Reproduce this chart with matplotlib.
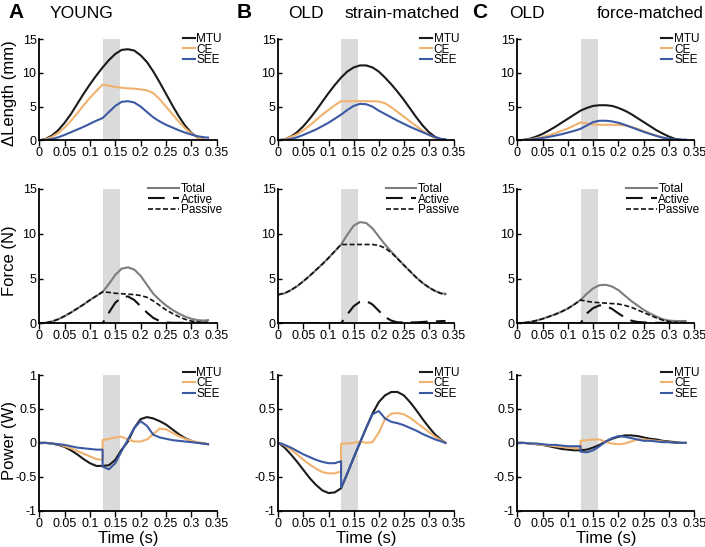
import matplotlib
matplotlib.use("Agg")
import matplotlib.pyplot as plt

# common time base (s); 0.125 appears twice so the power traces can jump there
t = [0, 0.0125, 0.025, 0.0375, 0.05, 0.0625, 0.075, 0.0875, 0.1, 0.1125, 0.125,
     0.125, 0.1375, 0.15, 0.1625, 0.175, 0.1875, 0.2, 0.2125, 0.225, 0.2375,
     0.25, 0.2625, 0.275, 0.2875, 0.3, 0.3125, 0.325, 0.333]

stim = (0.125, 0.159)

# ---- length change (mm)
len_mtu_A = [0, 0.2, 0.7, 1.5, 2.6, 3.9, 5.4, 6.9, 8.3, 9.6, 10.8, 10.8, 11.9, 12.8, 13.4, 13.5,
             13.3, 12.6, 11.6, 10.2, 8.6, 6.9, 5.2, 3.6, 2.2, 1.1, 0.4, 0.05, 0]
len_ce_A = [0, 0.15, 0.5, 1.1, 1.9, 2.9, 4.0, 5.2, 6.3, 7.3, 8.25, 8.25, 8.1, 7.9, 7.8, 7.7,
            7.65, 7.55, 7.4, 7.0, 6.1, 5.0, 3.9, 2.8, 1.8, 1.0, 0.4, 0.1, 0]
len_see_A = [0, 0.05, 0.2, 0.45, 0.8, 1.2, 1.6, 2.0, 2.45, 2.9, 3.3, 3.3, 4.2, 5.1, 5.7, 5.8,
             5.6, 5.0, 4.2, 3.4, 2.8, 2.3, 1.9, 1.5, 1.15, 0.85, 0.6, 0.45, 0.4]

len_mtu_B = [0, 0.15, 0.55, 1.2, 2.1, 3.2, 4.4, 5.7, 7.0, 8.2, 9.3, 9.3, 10.2, 10.8, 11.1, 11.1,
             10.8, 10.2, 9.3, 8.3, 7.2, 6.0, 4.7, 3.4, 2.2, 1.2, 0.5, 0.1, 0]
len_ce_B = [0, 0.15, 0.5, 0.9, 1.5, 2.2, 3.0, 3.8, 4.5, 5.2, 5.8, 5.8, 5.8, 5.8, 5.8, 5.8,
            5.8, 5.75, 5.5, 4.9, 4.2, 3.5, 2.8, 2.1, 1.4, 0.8, 0.3, 0.05, 0]
len_see_B = [0, 0.05, 0.2, 0.45, 0.8, 1.2, 1.6, 2.1, 2.6, 3.2, 3.8, 3.8, 4.5, 5.1, 5.4, 5.35,
             5.0, 4.4, 3.9, 3.4, 2.9, 2.45, 2.0, 1.6, 1.2, 0.8, 0.45, 0.2, 0.15]

len_mtu_C = [0, 0.07, 0.25, 0.55, 0.95, 1.45, 2.0, 2.6, 3.2, 3.8, 4.4, 4.4, 4.8, 5.1, 5.2, 5.2,
             5.1, 4.8, 4.4, 3.9, 3.3, 2.7, 2.1, 1.5, 1.0, 0.55, 0.2, 0.05, 0]
len_ce_C = [0, 0.05, 0.15, 0.3, 0.5, 0.75, 1.05, 1.4, 1.75, 2.2, 2.65, 2.65, 2.5, 2.35, 2.3, 2.3,
            2.3, 2.3, 2.2, 2.0, 1.7, 1.35, 1.0, 0.7, 0.4, 0.2, 0.05, -0.1, -0.15]
len_see_C = [0, 0.03, 0.1, 0.2, 0.35, 0.5, 0.7, 0.9, 1.15, 1.4, 1.7, 1.7, 2.2, 2.7, 2.9, 2.9,
             2.8, 2.6, 2.3, 1.95, 1.6, 1.25, 0.95, 0.65, 0.4, 0.25, 0.15, 0.1, 0.1]

# ---- force (N)
f_pas_A = [0, 0.05, 0.2, 0.45, 0.8, 1.2, 1.65, 2.1, 2.6, 3.05, 3.5, 3.5, 3.45, 3.35, 3.3, 3.25,
           3.2, 3.1, 2.9, 2.5, 2.0, 1.5, 1.1, 0.75, 0.45, 0.25, 0.15, 0.1, 0.1]
f_tot_A = [0, 0.05, 0.2, 0.45, 0.8, 1.2, 1.65, 2.1, 2.6, 3.05, 3.5, 3.5, 4.4, 5.4, 6.1, 6.25,
           6.0, 5.3, 4.3, 3.3, 2.6, 2.0, 1.5, 1.1, 0.75, 0.5, 0.35, 0.3, 0.35]
f_act_A = [0, 0, 0, 0, 0, 0, 0, 0, 0, 0, 0, 0, 1.2, 2.3, 2.9, 3.0,
           2.6, 1.9, 1.2, 0.6, 0.25, 0.1, 0.05, 0.05, 0.05, 0.05, 0.05, 0.05, 0.05]

f_pas_B = [3.2, 3.35, 3.7, 4.15, 4.7, 5.3, 5.95, 6.6, 7.3, 8.05, 8.8, 8.8, 8.8, 8.8, 8.8, 8.8,
           8.8, 8.7, 8.4, 7.9, 7.2, 6.5, 5.8, 5.1, 4.5, 4.0, 3.6, 3.3, 3.2]
f_tot_B = [3.2, 3.35, 3.7, 4.15, 4.7, 5.3, 5.95, 6.6, 7.3, 8.05, 8.8, 8.8, 9.9, 10.9, 11.3, 11.2,
           10.6, 9.7, 8.8, 8.0, 7.25, 6.5, 5.8, 5.1, 4.5, 4.0, 3.6, 3.35, 3.3]
f_act_B = [0, 0, 0, 0, 0, 0, 0, 0, 0, 0, 0, 0, 1.0, 1.9, 2.4, 2.5,
           2.1, 1.4, 0.7, 0.3, 0.1, 0.1, 0.1, 0.1, 0.15, 0.2, 0.2, 0.25, 0.25]

f_pas_C = [0, 0.05, 0.15, 0.3, 0.5, 0.75, 1.0, 1.3, 1.65, 2.1, 2.6, 2.6, 2.45, 2.35, 2.3, 2.25,
           2.2, 2.15, 2.0, 1.8, 1.5, 1.2, 0.9, 0.6, 0.35, 0.2, 0.1, 0.05, 0.05]
f_tot_C = [0, 0.05, 0.15, 0.3, 0.5, 0.75, 1.0, 1.3, 1.65, 2.1, 2.6, 2.6, 3.3, 3.9, 4.25, 4.3,
           4.1, 3.7, 3.1, 2.5, 2.0, 1.5, 1.1, 0.75, 0.45, 0.3, 0.25, 0.25, 0.25]
f_act_C = [0, 0, 0, 0, 0, 0, 0, 0, 0, 0, 0, 0, 1.1, 1.7, 2.0, 1.95,
           1.6, 1.1, 0.65, 0.3, 0.15, 0.1, 0.05, 0.05, 0.05, 0.05, 0.05, 0.05, 0.05]

# ---- power (W)
p_mtu_A = [0, 0, -0.01, -0.03, -0.06, -0.11, -0.17, -0.24, -0.3, -0.34, -0.34, -0.34, -0.33, -0.25,
           -0.1, 0.02, 0.22, 0.35, 0.38, 0.36, 0.32, 0.27, 0.2, 0.13, 0.07, 0.03, 0.0, -0.01, -0.02]
p_ce_A = [0, 0, -0.01, -0.02, -0.05, -0.08, -0.12, -0.16, -0.2, -0.24, -0.25, 0.04, 0.06, 0.08,
          0.09, 0.05, 0.02, 0.02, 0.05, 0.13, 0.21, 0.2, 0.15, 0.1, 0.06, 0.03, 0.01, 0.0, -0.02]
p_see_A = [0, 0, -0.01, -0.02, -0.03, -0.05, -0.07, -0.08, -0.09, -0.1, -0.1, -0.35, -0.39, -0.3,
           -0.12, 0.05, 0.22, 0.32, 0.25, 0.12, 0.08, 0.06, 0.04, 0.03, 0.02, 0.01, 0.0, -0.01, -0.02]

p_mtu_B = [0, -0.07, -0.17, -0.28, -0.4, -0.52, -0.62, -0.7, -0.74, -0.73, -0.67, -0.67, -0.45,
           -0.22, 0.0, 0.22, 0.43, 0.6, 0.7, 0.75, 0.75, 0.7, 0.6, 0.48, 0.35, 0.23, 0.12, 0.04, 0]
p_ce_B = [0, -0.04, -0.1, -0.17, -0.25, -0.32, -0.38, -0.43, -0.45, -0.45, -0.42, -0.01, -0.01,
          0.0, 0.02, 0.0, 0.01, 0.15, 0.35, 0.43, 0.44, 0.42, 0.37, 0.3, 0.23, 0.16, 0.09, 0.03, 0]
p_see_B = [0, -0.03, -0.07, -0.12, -0.17, -0.21, -0.25, -0.28, -0.3, -0.3, -0.27, -0.66, -0.45,
           -0.22, 0.0, 0.22, 0.42, 0.47, 0.36, 0.31, 0.29, 0.26, 0.22, 0.18, 0.13, 0.09, 0.05, 0.02, 0]

p_mtu_C = [0, 0, -0.01, -0.02, -0.03, -0.05, -0.07, -0.09, -0.1, -0.11, -0.11, -0.11, -0.1, -0.07,
           -0.03, 0.02, 0.06, 0.09, 0.11, 0.11, 0.1, 0.08, 0.06, 0.05, 0.03, 0.02, 0.01, 0.0, 0]
p_ce_C = [0, 0, -0.01, -0.02, -0.03, -0.04, -0.05, -0.06, -0.07, -0.08, -0.08, 0.03, 0.04, 0.05,
          0.05, 0.01, -0.01, -0.02, -0.01, 0.02, 0.05, 0.05, 0.04, 0.03, 0.02, 0.01, 0.0, 0.0, 0]
p_see_C = [0, 0, -0.01, -0.01, -0.02, -0.03, -0.03, -0.04, -0.05, -0.05, -0.05, -0.13, -0.14,
           -0.11, -0.05, 0.02, 0.07, 0.1, 0.09, 0.07, 0.05, 0.03, 0.03, 0.02, 0.01, 0.01, 0.0, 0.0, 0]

xticks = [0, 0.05, 0.1, 0.15, 0.2, 0.25, 0.3, 0.35]
xticklabels = ["0", "0.05", "0.1", "0.15", "0.2", "0.25", "0.3", "0.35"]

c_mtu = "#1a1a1a"
c_ce = "#f0b26e"
c_see = "#3b5aa3"
c_tot = "#7d7d7d"

plt.rcParams["font.family"] = "Liberation Sans"

fig = plt.figure(figsize=(7.05, 5.47), dpi=100)

lefts = [0.0557, 0.3948, 0.7338]
widths = [0.2516, 0.2492, 0.251]
rows = [(0.7435, 0.185), (0.409, 0.2455), (0.0664, 0.248)]


def style(ax, ylim, yticks, yticklabels):
    ax.set_xlim(0, 0.35)
    ax.set_ylim(*ylim)
    for s in ["top", "right"]:
        ax.spines[s].set_visible(False)
    ax.spines["left"].set_linewidth(1.3)
    ax.spines["bottom"].set_linewidth(1.3)
    ax.set_xticks(xticks)
    ax.set_xticklabels(xticklabels)
    ax.set_yticks(yticks)
    ax.set_yticklabels(yticklabels)
    ax.tick_params(axis="x", direction="out", length=4, width=1, labelsize=9, pad=1)
    ax.tick_params(axis="y", direction="in", length=3, width=1, labelsize=9, pad=2)
    ax.axvspan(stim[0], stim[1], color="#dadada", lw=0, zorder=0)


len_sets = [(len_mtu_A, len_ce_A, len_see_A), (len_mtu_B, len_ce_B, len_see_B),
            (len_mtu_C, len_ce_C, len_see_C)]
f_sets = [(f_tot_A, f_act_A, f_pas_A), (f_tot_B, f_act_B, f_pas_B), (f_tot_C, f_act_C, f_pas_C)]
p_sets = [(p_mtu_A, p_ce_A, p_see_A), (p_mtu_B, p_ce_B, p_see_B), (p_mtu_C, p_ce_C, p_see_C)]

leg_kw = dict(loc="upper right", frameon=False, fontsize=8.5, handlelength=1.0,
              handletextpad=0.15, labelspacing=-0.12, borderaxespad=0.0,
              borderpad=0.0, bbox_to_anchor=(1.03, 1.06))

for i in range(3):
    # length
    ax = fig.add_axes([lefts[i], rows[0][0], widths[i], rows[0][1]])
    mtu, ce, see = len_sets[i]
    ax.plot(t, mtu, color=c_mtu, lw=1.5, label="MTU")
    ax.plot(t, ce, color=c_ce, lw=1.5, label="CE")
    ax.plot(t, see, color=c_see, lw=1.5, label="SEE")
    style(ax, (0, 15), [0, 5, 10, 15], ["0", "5", "10", "15"])
    ax.legend(**leg_kw)

    # force
    ax = fig.add_axes([lefts[i], rows[1][0], widths[i], rows[1][1]])
    tot, act, pas = f_sets[i]
    ax.plot(t, tot, color=c_tot, lw=1.5, label="Total")
    ax.plot(t, act, color="#111111", lw=1.5, dashes=(8, 4), label="Active")
    ax.plot(t, pas, color="#111111", lw=1.2, dashes=(3, 1.5), label="Passive")
    style(ax, (0, 15), [0, 5, 10, 15], ["0", "5", "10", "15"])
    lk = dict(leg_kw)
    lk["handlelength"] = 2.6
    lk["bbox_to_anchor"] = (1.03, 1.045)
    ax.legend(**lk)

    # power
    ax = fig.add_axes([lefts[i], rows[2][0], widths[i], rows[2][1]])
    mtu, ce, see = p_sets[i]
    ax.plot(t, mtu, color=c_mtu, lw=1.5, label="MTU")
    ax.plot(t, ce, color=c_ce, lw=1.5, label="CE")
    ax.plot(t, see, color=c_see, lw=1.5, label="SEE")
    style(ax, (-1, 1), [-1, -0.5, 0, 0.5, 1], ["-1", "-0.5", "0", "0.5", "1"])
    ax.legend(**leg_kw)
    ax.set_xlabel("Time (s)", fontsize=12, labelpad=1)

# row labels
fig.text(0.014, 0.829, "\u0394Length (mm)", rotation=90, fontsize=12, ha="center", va="center")
fig.text(0.014, 0.523, "Force (N)", rotation=90, fontsize=12, ha="center", va="center")
fig.text(0.014, 0.194, "Power (W)", rotation=90, fontsize=12, ha="center", va="center")

# panel headers
hy = 0.967
fig.text(0.012, hy, "A", fontsize=15, fontweight="bold", va="baseline")
fig.text(0.071, hy, "YOUNG", fontsize=12.5, va="baseline")
fig.text(0.336, hy, "B", fontsize=15, fontweight="bold", va="baseline")
fig.text(0.409, hy, "OLD", fontsize=12.5, va="baseline")
fig.text(0.489, hy, "strain-matched", fontsize=12.5, va="baseline")
fig.text(0.670, hy, "C", fontsize=15, fontweight="bold", va="baseline")
fig.text(0.722, hy, "OLD", fontsize=12.5, va="baseline")
fig.text(0.847, hy, "force-matched", fontsize=12, va="baseline")

fig.savefig("out.png", dpi=100)
